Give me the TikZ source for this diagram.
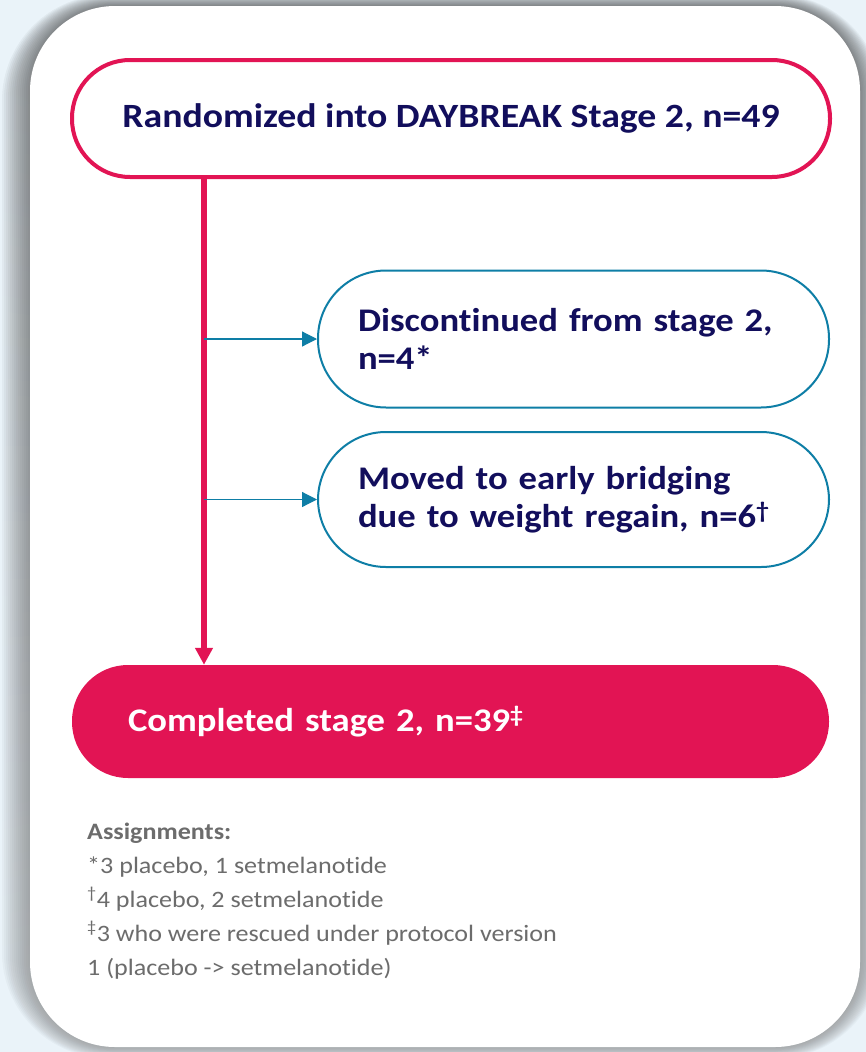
\documentclass[tikz,border=0pt]{standalone}
\usepackage{fontspec}
\setmainfont{Carlito}[FakeStretch=1.11,Ligatures=NoCommon]
\usetikzlibrary{arrows.meta}
\definecolor{crimson}{RGB}{226,20,84}
\definecolor{navy}{RGB}{18,14,92}
\definecolor{teal}{RGB}{14,126,166}
\definecolor{notegray}{RGB}{108,108,108}
\definecolor{bgblue}{RGB}{234,243,249}
\definecolor{shade}{RGB}{120,135,150}
\tikzset{
  pillred/.style={draw=crimson,line width=4pt,fill=white,rounded corners=58pt,
    minimum width=758pt,minimum height=117pt,text=navy,
    font=\fontsize{34}{40}\selectfont\bfseries},
  pillteal/.style={draw=teal,line width=2pt,fill=white,rounded corners=68pt,
    minimum width=511pt,minimum height=137pt,text width=431pt,align=left,
    inner sep=0pt,text=navy,font=\fontsize{33}{38}\selectfont\bfseries},
  pillfull/.style={fill=crimson,rounded corners=56pt,minimum width=757pt,
    minimum height=113pt,text width=645pt,align=left,inner sep=0pt,
    text=white,font=\fontsize{33}{38}\selectfont\bfseries},
  trunk/.style={crimson,line width=6pt,-{Triangle[length=17pt,width=17pt]}},
  branch/.style={teal,line width=1.2pt,-{Triangle[length=15pt,width=15pt]}}
}
\begin{document}
\begin{tikzpicture}[x=1pt,y=-1pt]
\useasboundingbox (0,0) rectangle (866,1052);
\fill[bgblue] (0,0) rectangle (866,1052);
%\fill[white,opacity=.5] (0,0) rectangle (300,300);
\foreach \s in {1,...,14}
  \fill[shade,opacity=0.028,rounded corners=85pt+\s*1.5pt]
    (30-\s*2,6-\s*0.8) rectangle (860+\s*1.6,1047+\s*0.8);
\fill[white,rounded corners=85pt] (30,6) rectangle (860,1047);
\path
(451,118.5) node[pillred] (rand) {Randomized into DAYBREAK Stage 2, n=49}
(573.5,339) node[pillteal] (disc) {Discontinued from stage 2,\\n=4*}
(573.5,499.5) node[pillteal,minimum height=135pt] (moved) {Moved to early bridging\\due to weight regain, n=6\textsuperscript{\textdagger}}
(450.5,721.5) node[pillfull] (done) {Completed stage 2, n=39\textsuperscript{\textdaggerdbl}}
(204,0) coordinate (stem);
\draw[trunk] (rand.south -| stem) -- (done.north -| stem);
\draw[branch] (stem |- disc.west) -- (disc.west);
\draw[branch] (stem |- moved.west) -- (moved.west);
\node[anchor=north west,align=left,inner sep=0pt,text=notegray,
  font=\fontsize{23.5}{34}\selectfont] (notes) at (87,823)
  {\textbf{Assignments:}\\
   *3 placebo, 1 setmelanotide\\
   \textsuperscript{\textdagger}4 placebo, 2 setmelanotide\\
   \textsuperscript{\textdaggerdbl}3 who were rescued under protocol version\\
   1 (placebo -> setmelanotide)};
\end{tikzpicture}
\end{document}
